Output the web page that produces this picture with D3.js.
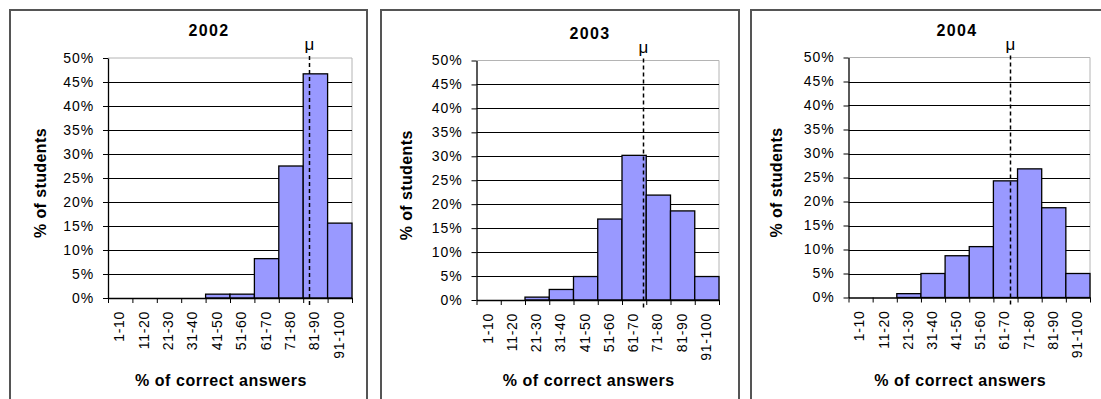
<!DOCTYPE html>
<html>
<head>
<meta charset="utf-8">
<script src="https://cdn.jsdelivr.net/npm/d3@7"></script>
<style>
  body { margin: 0; background: #fff; }
  svg { display: block; }
  text { font-family: Arial, "Liberation Sans", sans-serif; fill: #000; }
</style>
</head>
<body>
<svg id="chart" width="1101" height="399"></svg>
<script>
// Score bands (% of correct answers)
const bins = ["1-10", "11-20", "21-30", "31-40", "41-50", "51-60", "61-70", "71-80", "81-90", "91-100"];
const years = ["2002", "2003", "2004"];

// Share of students per band (%)
const share2002 = [0, 0, 0, 0, 0.8, 0.8, 8.2, 27.5, 46.7, 15.6];
const share2003 = [0, 0, 0.6, 2.2, 4.9, 16.9, 30.2, 21.9, 18.6, 4.9];
const share2004 = [0, 0, 0.8, 5.0, 8.7, 10.6, 24.3, 26.8, 18.7, 5.0];

// Mean score (μ) per year, on the 0–100 answer scale
const means = [82.4, 68.8, 66.9];

// Axis ticks and texts
const yTicks = [0, 5, 10, 15, 20, 25, 30, 35, 40, 45, 50];
const yTitle = "% of students";
const xTitle = "% of correct answers";
const meanSymbol = "μ";

const series = [share2002, share2003, share2004];

// Layout of the three chart panels
const panels = [
  { frameL: 10,  frameR: 367,  left: 108,   right: 352,  top: 58,   bottom: 298,   titleX: 209, titleY: 30,   yTitleX: 40 },
  { frameL: 381, frameR: 739,  left: 476.5, right: 719,  top: 60.5, bottom: 300,   titleX: 590, titleY: 33,   yTitleX: 406 },
  { frameL: 751, frameR: 1112, left: 848.5, right: 1090, top: 57.5, bottom: 297.5, titleX: 957, titleY: 30.5, yTitleX: 776 }
];

const svg = d3.select("#chart");

panels.forEach((p, k) => {
  const values = series[k];
  const g = svg.append("g");

  // Panel frame
  g.append("rect")
    .attr("x", p.frameL).attr("y", 10)
    .attr("width", p.frameR - p.frameL).attr("height", 420)
    .attr("fill", "#fff").attr("stroke", "#555").attr("stroke-width", 2);

  const y = d3.scaleLinear().domain([0, 50]).range([p.bottom, p.top]);
  const xBand = d3.scaleBand().domain(bins).range([p.left, p.right]).padding(0);
  const xEdge = d3.scaleLinear().domain([0, bins.length]).range([p.left, p.right]);
  const xScore = d3.scaleLinear().domain([0, 100]).range([p.left, p.right]);

  // Plot area outline (top and right) in light grey
  g.append("path")
    .attr("d", `M${p.left},${y(50)}H${p.right}V${y(0)}`)
    .attr("fill", "none").attr("stroke", "#b4b4b4").attr("stroke-width", 1);

  // Horizontal gridlines
  g.append("g").selectAll("line")
    .data(yTicks.filter(t => t > 0 && t < 50))
    .join("line")
    .attr("x1", p.left).attr("x2", p.right)
    .attr("y1", d => Math.round(y(d)) + 0.5).attr("y2", d => Math.round(y(d)) + 0.5)
    .attr("stroke", "#000").attr("stroke-width", 1);

  // Bars
  g.append("g").selectAll("rect")
    .data(values.map((v, i) => ({ bin: bins[i], v })).filter(d => d.v > 0))
    .join("rect")
    .attr("x", d => xBand(d.bin))
    .attr("y", d => y(d.v))
    .attr("width", xBand.bandwidth())
    .attr("height", d => y(0) - y(d.v))
    .attr("fill", "#9999ff")
    .attr("stroke", "#000").attr("stroke-width", 1.3);

  // Y axis
  const yAxis = g.append("g")
    .attr("transform", `translate(${p.left},0)`)
    .call(d3.axisLeft(y).tickValues(yTicks).tickFormat(d => d + "%").tickSize(5).tickSizeOuter(0).tickPadding(9));
  yAxis.select(".domain").attr("stroke", "#000").attr("stroke-width", 1.3);
  yAxis.selectAll(".tick line").attr("stroke", "#000");
  yAxis.selectAll(".tick text")
    .attr("font-size", 14).style("letter-spacing", "0.9px")
    .attr("font-family", "Arial, 'Liberation Sans', sans-serif").attr("fill", "#000");

  // X axis: line and ticks at band edges
  const xAxis = g.append("g")
    .attr("transform", `translate(0,${p.bottom})`)
    .call(d3.axisBottom(xEdge).tickValues(d3.range(bins.length + 1)).tickFormat("").tickSize(5).tickSizeOuter(0));
  xAxis.select(".domain").attr("stroke", "#000").attr("stroke-width", 1.3);
  xAxis.selectAll(".tick line").attr("stroke", "#000");

  // Band labels, rotated
  g.append("g").selectAll("text")
    .data(bins)
    .join("text")
    .attr("transform", d => `translate(${xBand(d) + xBand.bandwidth() / 2 - 1},${p.bottom + 13}) rotate(-90)`)
    .attr("text-anchor", "end")
    .attr("dy", "0.35em")
    .attr("font-size", 14)
    .style("letter-spacing", "0.7px")
    .text(d => d);

  // Mean marker
  const mx = Math.round(xScore(means[k])) + 0.5;
  g.append("line")
    .attr("x1", mx).attr("x2", mx)
    .attr("y1", p.top - 2).attr("y2", p.bottom + 9)
    .attr("stroke", "#000").attr("stroke-width", 1.5)
    .attr("stroke-dasharray", "4,3");
  g.append("text")
    .attr("x", mx).attr("y", p.top - 8)
    .attr("text-anchor", "middle")
    .attr("font-size", 17)
    .text(meanSymbol);

  // Titles
  g.append("text")
    .attr("x", p.titleX).attr("y", p.titleY)
    .attr("text-anchor", "middle").attr("dy", "0.35em")
    .attr("font-size", 16).attr("font-weight", "bold")
    .style("letter-spacing", "1.4px")
    .text(years[k]);

  g.append("text")
    .attr("transform", `translate(${p.yTitleX},${(p.top + p.bottom) / 2 + 5}) rotate(-90)`)
    .attr("text-anchor", "middle").attr("dy", "0.35em")
    .attr("font-size", 16).attr("font-weight", "bold")
    .style("letter-spacing", "0.4px")
    .text(yTitle);

  g.append("text")
    .attr("x", (p.left + p.right) / 2 - 9).attr("y", 380)
    .attr("text-anchor", "middle").attr("dy", "0.35em")
    .attr("font-size", 16).attr("font-weight", "bold")
    .style("letter-spacing", "0.55px")
    .text(xTitle);
});
</script>
</body>
</html>
